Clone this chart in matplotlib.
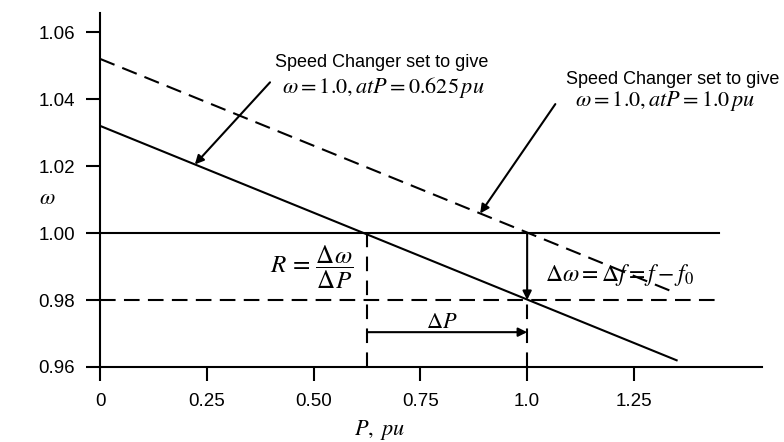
import sys

import numpy as np
import matplotlib
matplotlib.use("Agg")
import matplotlib.pyplot as plt

# droop characteristics (P in pu, omega in pu)
p_solid = [0.0, 1.35]
w_solid = [1.032, 0.962]
p_dashed = [0.0, 1.35]
w_dashed = [1.052, 0.982]

p_ref_end = 1.45
w_nominal = 1.00
w_loaded = 0.98
p_old = 0.625
p_new = 1.0
w_bottom = 0.96
w_delta_p = 0.9704

xticks = [0, 0.25, 0.50, 0.75, 1.0, 1.25]
xtick_labels = ["0", "0.25", "0.50", "0.75", "1.0", "1.25"]
yticks = [0.96, 0.98, 1.00, 1.02, 1.04, 1.06]
ytick_labels = ["0.96", "0.98", "1.00", "1.02", "1.04", "1.06"]


def main():
    plt.rcParams["font.family"] = ["Liberation Sans", "DejaVu Sans"]
    plt.rcParams["mathtext.fontset"] = "stix"

    f = plt.figure(figsize=(7.84, 4.42), dpi=100)
    axis = f.add_axes([0.1276, 0.1697, 0.8444, 0.8009])

    lw = 1.5
    dash = (0, (7.5, 4))

    axis.plot(p_solid, w_solid, color="black", lw=lw)
    axis.plot(p_dashed, w_dashed, color="black", lw=lw, linestyle=dash)
    axis.plot([0, p_ref_end], [w_nominal, w_nominal], color="black", lw=lw)
    axis.plot([0, p_ref_end], [w_loaded, w_loaded], color="black", lw=lw, linestyle=dash)

    # vertical guides
    axis.plot([p_old, p_old], [w_bottom, w_nominal], color="black", lw=lw, linestyle=(0, (7, 4.5)))
    axis.plot([p_new, p_new], [w_bottom, w_loaded], color="black", lw=lw, linestyle=(0, (7, 4.5)))

    arrow = dict(arrowstyle="-|>", color="black", lw=lw, mutation_scale=13, shrinkA=0, shrinkB=0)
    axis.annotate("", xy=(p_new, w_loaded), xytext=(p_new, w_nominal), arrowprops=arrow)
    axis.annotate("", xy=(p_new, w_delta_p), xytext=(p_old, w_delta_p), arrowprops=arrow)

    # pointers to each characteristic
    tip1 = 0.222
    axis.annotate("", xy=(tip1, np.interp(tip1, p_solid, w_solid)), xytext=(0.398, 1.045),
                  arrowprops=arrow)
    tip2 = 0.89
    axis.annotate("", xy=(tip2, np.interp(tip2, p_dashed, w_dashed)), xytext=(1.066, 1.0385),
                  arrowprops=arrow)

    axis.text(0.41, 1.051, "Speed Changer set to give", fontsize=13, va="center", ha="left")
    axis.text(0.426, 1.0436, r"$\omega = 1.0, at P = 0.625\,pu$", fontsize=16, va="center", ha="left")
    axis.text(1.091, 1.0457, "Speed Changer set to give", fontsize=13, va="center", ha="left")
    axis.text(1.112, 1.0394, r"$\omega = 1.0, at P = 1.0\,pu$", fontsize=16, va="center", ha="left")

    axis.text(0.592, 0.9899, r"$R\,=\,\dfrac{\Delta\omega}{\Delta P}$", fontsize=18, va="center", ha="right")
    axis.text(1.042, 0.9875, r"$\Delta\omega = \Delta f = f - f_0$", fontsize=17, va="center", ha="left")
    axis.text(0.80, 0.9734, r"$\Delta P$", fontsize=16, va="center", ha="center")

    axis.set_xlim(0, 1.55)
    axis.set_ylim(w_bottom, 1.0657)
    axis.set_xticks(xticks)
    axis.set_xticklabels(xtick_labels)
    axis.set_yticks(yticks)
    axis.set_yticklabels(ytick_labels)
    axis.tick_params(axis="both", direction="out", length=10, width=1.5, labelsize=13.5)
    axis.tick_params(axis="x", pad=9)
    axis.tick_params(axis="y", pad=8)

    for side in ["top", "right"]:
        axis.spines[side].set_visible(False)
    for side in ["left", "bottom"]:
        axis.spines[side].set_linewidth(1.5)

    axis.set_ylabel(r"$\omega$", rotation=0, fontsize=16, va="center", ha="center")
    axis.yaxis.set_label_coords(-0.079, 0.477)
    axis.set_xlabel(r"$P,\ pu$", fontsize=16, va="center")
    axis.xaxis.set_label_coords(0.423, -0.178)

    f.savefig("out.png", dpi=100)


if __name__ == "__main__":
    sys.exit(main())
